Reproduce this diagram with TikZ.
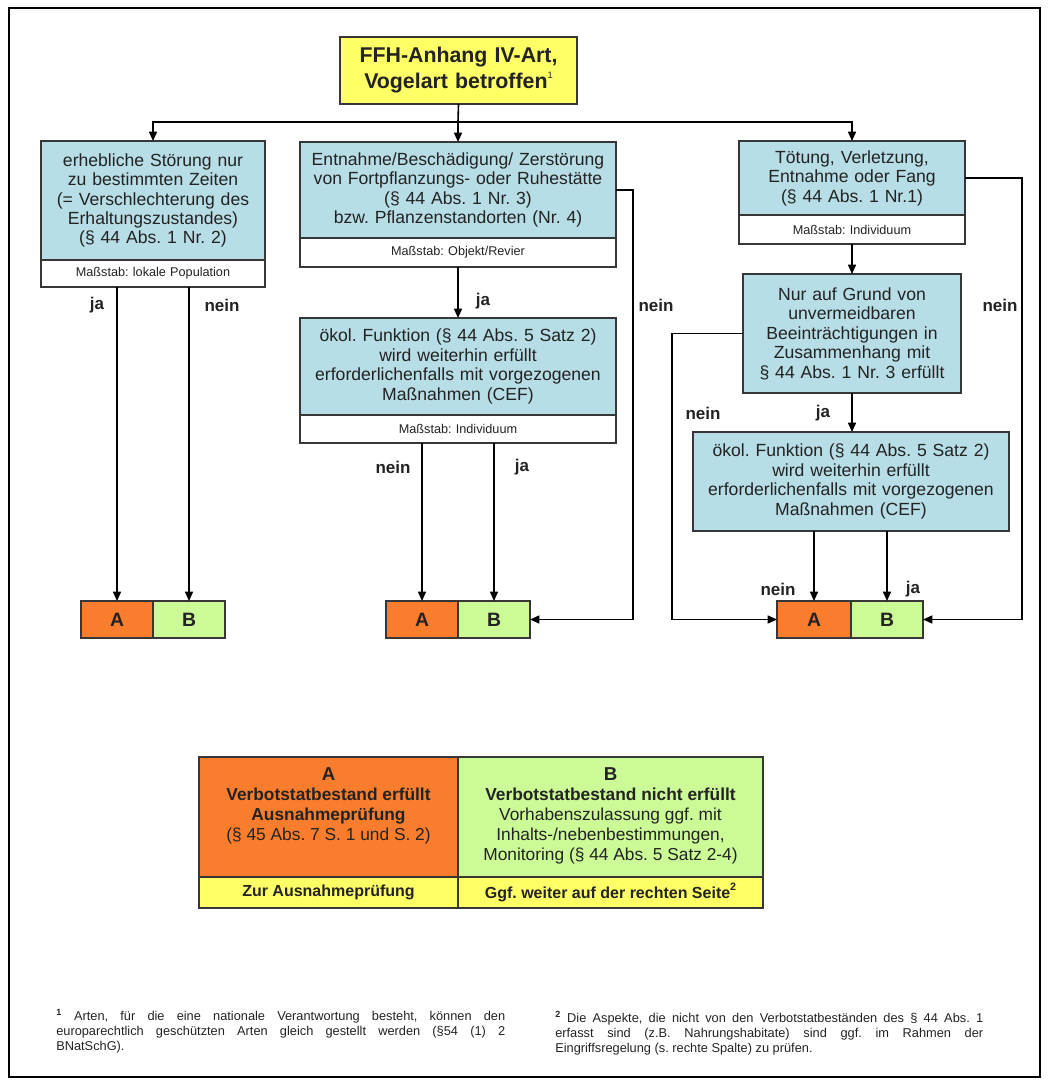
\documentclass[tikz,border=0pt]{standalone}
\usepackage{fontspec}
\setmainfont{Liberation Sans}
\usetikzlibrary{arrows.meta}
\frenchspacing

\definecolor{boxblue}{RGB}{183,221,230}
\definecolor{topyellow}{RGB}{255,255,102}
\definecolor{aorange}{RGB}{250,125,45}
\definecolor{bgreen}{RGB}{204,250,150}
\definecolor{boxline}{RGB}{55,55,55}
\definecolor{txt}{RGB}{35,35,35}

\tikzset{
  arr/.style={-{Triangle[length=7pt,width=6pt]}, line width=1.2pt, color=black},
  bluebox/.style={draw=boxline, fill=boxblue, line width=1.1pt, inner sep=0pt, outer sep=0pt,
    align=center, text=txt, font=\fontsize{13.2}{14.6}\selectfont},
  scalebox/.style={draw=boxline, fill=white, line width=1.1pt, inner sep=0pt, outer sep=0pt,
    align=center, text=txt, font=\fontsize{9.5}{11}\selectfont},
  topbox/.style={draw=boxline, fill=topyellow, line width=1.4pt, inner sep=0pt, outer sep=0pt,
    align=center, text=txt, font=\fontsize{16}{19.5}\selectfont\bfseries},
  abox/.style={draw=boxline, line width=1.1pt, inner sep=0pt, outer sep=0pt,
    minimum height=27.75pt, text=txt, font=\fontsize{14.5}{16}\selectfont\bfseries},
  legcell/.style={draw=boxline, line width=1.1pt, inner sep=0pt, outer sep=0pt},
  legtext/.style={inner sep=0pt, align=center, text=txt, font=\fontsize{13}{15}\selectfont},
  lbl/.style={inner sep=0pt, text=txt, font=\fontsize{12.75}{14}\selectfont\bfseries},
  fntext/.style={inner sep=0pt, align=left, text=txt, font=\fontsize{9.6}{11.25}\selectfont}
}

\begin{document}
\begin{tikzpicture}[x=0.75pt,y=0.75pt,yscale=-1,xscale=1]
\useasboundingbox (0,0) rectangle (1048,1084);

%Shape: Rectangle [frame]
\draw [line width=1.5] (9,8) -- (1040,8) -- (1040,1077) -- (9,1077) -- cycle ;

%Shape: Rectangle [top]
\node [topbox, minimum width=177.75pt, minimum height=50.25pt, text width=174pt] (anh) at (458.5,70.5)
  {FFH-Anhang IV-Art,\\ Vogelart betroffen\raisebox{0.5em}{\fontsize{7}{7}\selectfont\mdseries 1}};

%Shape: Rectangle [left column]
\node [bluebox, minimum width=168pt, minimum height=89.25pt, text width=166pt] (stoer) at (153,200.5)
  {erhebliche Störung nur\\ zu bestimmten Zeiten\\ (= Verschlechterung des\\ Erhaltungszustandes)\\ (§ 44 Abs. 1 Nr. 2)};
\node [scalebox, minimum width=168pt, minimum height=20.25pt, text width=166pt] (stoerM) at (153,273.5)
  {Maßstab: lokale Population};

%Shape: Rectangle [middle column]
\node [bluebox, minimum width=237pt, minimum height=72pt, text width=235pt] (ruhe) at (458,190)
  {Entnahme/Beschädigung/ Zerstörung\\ von Fortpflanzungs- oder Ruhestätte\\ (§ 44 Abs. 1 Nr. 3)\\ bzw. Pflanzenstandorten (Nr. 4)};
\node [scalebox, minimum width=237pt, minimum height=21.75pt, text width=235pt] (ruheM) at (458,252.5)
  {Maßstab: Objekt/Revier};
\node [bluebox, minimum width=237pt, minimum height=72.75pt, text width=235pt] (fkt1) at (458,366.5)
  {ökol. Funktion (§ 44 Abs. 5 Satz 2)\\ wird weiterhin erfüllt\\ erforderlichenfalls mit vorgezogenen\\ Maßnahmen (CEF)};
\node [scalebox, minimum width=237pt, minimum height=21pt, text width=235pt] (fkt1M) at (458,429)
  {Maßstab: Individuum};

%Shape: Rectangle [right column]
\node [bluebox, minimum width=169.5pt, minimum height=55.5pt, text width=167pt] (toet) at (852,178)
  {Tötung, Verletzung,\\ Entnahme oder Fang\\ (§ 44 Abs. 1 Nr.1)};
\node [scalebox, minimum width=169.5pt, minimum height=21.75pt, text width=167pt] (toetM) at (852,229.5)
  {Maßstab: Individuum};
\node [bluebox, minimum width=163.5pt, minimum height=89.25pt, text width=161pt] (grund) at (852,333.5)
  {Nur auf Grund von\\ unvermeidbaren\\ Beeinträchtigungen in\\ Zusammenhang mit\\ § 44 Abs. 1 Nr. 3 erfüllt};
\node [bluebox, minimum width=237pt, minimum height=74.25pt, text width=235pt] (cef) at (851,481.5)
  {ökol. Funktion (§ 44 Abs. 5 Satz 2)\\ wird weiterhin erfüllt\\ erforderlichenfalls mit vorgezogenen\\ Maßnahmen (CEF)};

%Shape: Rectangle [A/B results]
\node [abox, fill=aorange, minimum width=54pt] (A1) at (117,619.5) {A};
\node [abox, fill=bgreen, minimum width=54pt] (B1) at (189,619.5) {B};
\node [abox, fill=aorange, minimum width=54pt] (A2) at (422,619.5) {A};
\node [abox, fill=bgreen, minimum width=54pt] (B2) at (494,619.5) {B};
\node [abox, fill=aorange, minimum width=55.5pt] (A3) at (814,619.5) {A};
\node [abox, fill=bgreen, minimum width=54pt] (B3) at (887,619.5) {B};

%Straight Lines [from top]
\coordinate (split) at (458,122);
\draw [line width=1.2] (anh.south) -- (split);
\draw [arr] (split) -| (stoer.north);
\draw [arr] (split) -- (ruhe.north);
\draw [arr] (split) -| (toet.north);

%Straight Lines [left column]
\draw [arr] (A1.north |- stoerM.south) -- (A1.north);
\draw [arr] (B1.north |- stoerM.south) -- (B1.north);

%Straight Lines [middle column]
\coordinate (midR) at (633,619.5);
\draw [arr] (ruheM.south) -- (fkt1.north);
\draw [arr] (ruhe.east) -| (midR) -- (B2.east);
\draw [arr] (A2.north |- fkt1M.south) -- (A2.north);
\draw [arr] (B2.north |- fkt1M.south) -- (B2.north);

%Straight Lines [right column]
\coordinate (rgtR) at (1022,619.5);
\coordinate (rgtL) at (672,619.5);
\draw [arr] (toet.east) -| (rgtR) -- (B3.east);
\draw [arr] (toetM.south) -- (grund.north);
\draw [arr] (grund.west) -| (rgtL) -- (A3.west);
\draw [arr] (grund.south) -- (grund.south |- cef.north);
\draw [arr] (A3.north |- cef.south) -- (A3.north);
\draw [arr] (B3.north |- cef.south) -- (B3.north);

% Text Node
\node [lbl] (ja1) at (97,305) {ja};
% Text Node
\node [lbl] (nein1) at (222,305) {nein};
% Text Node
\node [lbl] (ja2) at (483,301) {ja};
% Text Node
\node [lbl] (nein2) at (656,305) {nein};
% Text Node
\node [lbl] (nein3) at (393,467) {nein};
% Text Node
\node [lbl] (ja3) at (522,467) {ja};
% Text Node
\node [lbl] (nein4) at (1000,305) {nein};
% Text Node
\node [lbl] (nein5) at (703,413) {nein};
% Text Node
\node [lbl] (ja4) at (823,413) {ja};
% Text Node
\node [lbl] (nein6) at (778,589) {nein};
% Text Node
\node [lbl] (ja5) at (913,589) {ja};

%Shape: Rectangle [legend]
\node [legcell, fill=aorange, minimum width=194.25pt, minimum height=90pt] (legA) at (328.5,817) {};
\node [legcell, fill=bgreen, minimum width=228.75pt, minimum height=90pt] (legB) at (610.5,817) {};
\node [legcell, fill=topyellow, minimum width=194.25pt, minimum height=23.25pt, font=\fontsize{12}{14}\selectfont\bfseries, text=txt] (legA2) at (328.5,892.5) {Zur Ausnahmeprüfung};
\node [legcell, fill=topyellow, minimum width=228.75pt, minimum height=23.25pt, font=\fontsize{12}{14}\selectfont\bfseries, text=txt] (legB2) at (610.5,892.5) {Ggf. weiter auf der rechten Seite\raisebox{0.45em}{\fontsize{8}{8}\selectfont 2}};
% Text Node
\node [legtext, anchor=north] (legAtxt) at (328.5,767)
  {{\fontsize{14}{15}\selectfont\textbf{A}}\\ \textbf{Verbotstatbestand erfüllt}\\ \textbf{Ausnahmeprüfung}\\ (§ 45 Abs. 7 S. 1 und S. 2)};
% Text Node
\node [legtext, anchor=north] (legBtxt) at (610.5,767)
  {{\fontsize{14}{15}\selectfont\textbf{B}}\\ \textbf{Verbotstatbestand nicht erfüllt}\\ Vorhabenszulassung ggf. mit\\ Inhalts-/nebenbestimmungen,\\ Monitoring (§ 44 Abs. 5 Satz 2-4)};

% Text Node
\node [fntext, anchor=north west] (fn1) at (56,1009)
  {\makebox[336.75pt][s]{\textsuperscript{\bfseries 1} Arten, für die eine nationale Verantwortung besteht, können den}\\
   \makebox[336.75pt][s]{europarechtlich geschützten Arten gleich gestellt werden (§54 (1) 2}\\
   BNatSchG).};
% Text Node
\node [fntext, anchor=north west] (fn2) at (555,1011)
  {\makebox[321pt][s]{\textsuperscript{\bfseries 2} Die Aspekte, die nicht von den Verbotstatbeständen des § 44 Abs. 1}\\
   \makebox[321pt][s]{erfasst sind (z.B. Nahrungshabitate) sind ggf. im Rahmen der}\\
   Eingriffsregelung (s. rechte Spalte) zu prüfen.};

\end{tikzpicture}
\end{document}
